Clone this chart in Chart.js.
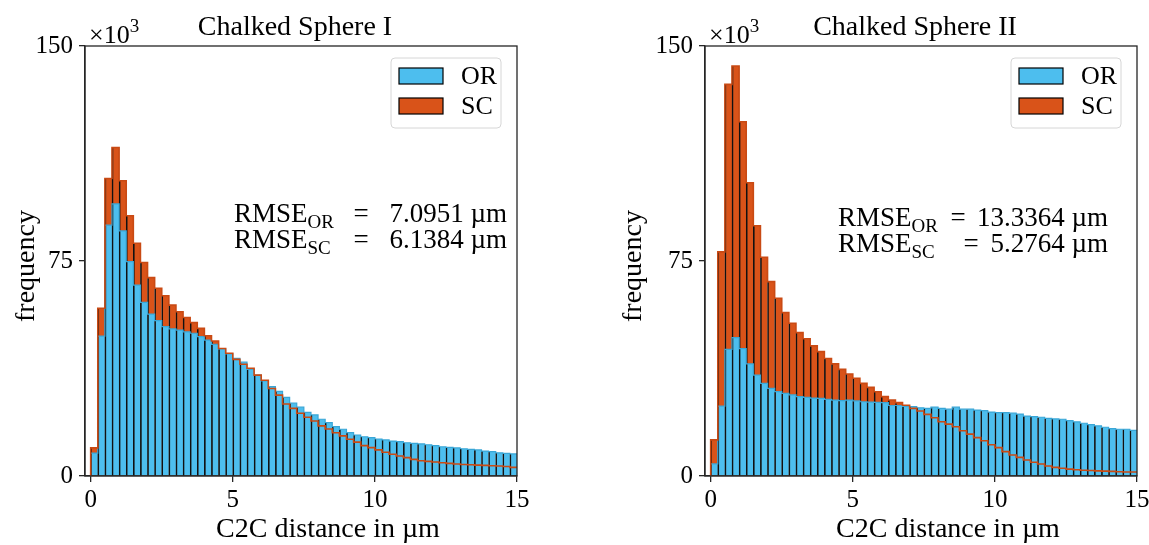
<!DOCTYPE html>
<html>
<head>
<meta charset="utf-8">
<script src="https://cdn.jsdelivr.net/npm/chart.js@4.4.1/dist/chart.umd.min.js"></script>
<style>
    body { margin: 0; background: #fff; overflow: hidden; }
    canvas { position: absolute; top: 0; }
</style>
</head>
<body>
<canvas id="sphereOne" width="600" height="545" style="left:0"></canvas>
<canvas id="sphereTwo" width="549" height="545" style="left:600px"></canvas>
<script>
const SERIF = '"Liberation Serif", "DejaVu Serif", serif';
const OR_COLOR = '#4DBEEE';
const SC_COLOR = '#D95319';

// histogram values in thousands, bins of 0.25 um from 0 to 15
const OR_ONE = [
    8.0, 48.8, 87.5, 94.9, 85.5, 74.8, 66.6, 60.6, 56.5, 54.2,
    52.1, 51.3, 50.9, 50.3, 49.8, 48.6, 47.4, 45.9, 44.3, 42.6,
    41.0, 39.7, 37.2, 35.2, 33.2, 31.2, 29.5, 27.4, 25.4, 24.0,
    22.2, 21.3, 19.8, 18.6, 17.2, 16.3, 15.1, 14.3, 13.7, 13.4,
    12.9, 12.6, 12.2, 12.0, 11.6, 11.4, 11.2, 10.9, 10.6, 10.2,
    10.0, 9.8, 9.5, 9.3, 9.1, 8.7, 8.5, 8.1, 7.9, 7.7
];
const SC_ONE = [
    9.8, 58.5, 103.8, 114.6, 103.0, 90.8, 81.2, 74.5, 69.2, 65.5,
    62.9, 59.6, 57.3, 55.3, 53.5, 51.5, 48.9, 47.1, 44.5, 42.8,
    40.7, 39.0, 37.6, 35.2, 33.4, 30.5, 28.2, 25.1, 23.6, 21.9,
    20.5, 19.2, 17.5, 16.4, 15.1, 14.0, 12.8, 11.8, 10.6, 9.9,
    9.1, 8.3, 7.6, 7.0, 6.4, 5.8, 5.3, 5.1, 4.9, 4.6,
    4.4, 4.2, 4.0, 3.9, 3.8, 3.7, 3.6, 3.5, 3.3, 3.0
];
const OR_TWO = [
    4.2, 24.4, 44.2, 48.3, 44.4, 39.1, 35.2, 32.3, 30.6, 29.4,
    28.8, 28.3, 27.7, 27.4, 27.2, 27.1, 26.7, 26.5, 26.3, 26.5,
    26.2, 25.9, 25.8, 25.7, 25.6, 24.6, 24.6, 24.3, 24.2, 23.8,
    23.6, 24.0, 23.6, 23.3, 24.0, 23.3, 23.3, 23.0, 22.8, 22.3,
    22.1, 22.1, 21.9, 21.6, 20.9, 20.7, 20.5, 20.1, 19.9, 19.8,
    19.3, 18.9, 18.4, 17.9, 17.5, 17.0, 16.5, 16.3, 16.3, 15.9
];
const SC_TWO = [
    12.6, 78.2, 136.6, 143.0, 123.6, 102.3, 87.3, 76.3, 67.8, 62.0,
    57.0, 53.3, 50.0, 47.9, 45.4, 43.4, 41.0, 39.1, 37.2, 35.6,
    34.1, 32.3, 30.9, 29.4, 27.7, 26.5, 25.6, 24.7, 23.6, 22.7,
    21.5, 20.3, 18.9, 18.1, 17.2, 15.8, 14.6, 13.4, 12.3, 10.9,
    9.9, 8.5, 7.3, 6.5, 5.6, 4.8, 4.2, 3.5, 3.0, 2.7,
    2.4, 2.2, 2.0, 1.9, 1.8, 1.7, 1.6, 1.5, 1.4, 1.4
];

const BIN_WIDTH = 0.25;
const X_TICKS = [0, 5, 10, 15];
const Y_TICKS = [0, 75, 150];
const LEGEND_LABELS = ['OR', 'SC'];

const barData = values => values.map((v, i) => ({ x: (i + 0.5) * BIN_WIDTH, y: v }));

// outline of a histogram as points on the bin edges
const stepData = values => [{ x: 0, y: 0 }]
    .concat(values.map((v, i) => ({ x: i * BIN_WIDTH, y: v })))
    .concat({ x: values.length * BIN_WIDTH, y: values[values.length - 1] });

const drawRmseLine = (ctx, x, y, sub, eqX, value, valueRight) => {
    ctx.textAlign = 'left';
    ctx.font = `27px ${SERIF}`;
    ctx.fillText('RMSE', x, y);
    const w = ctx.measureText('RMSE').width;
    ctx.font = `19px ${SERIF}`;
    ctx.fillText(sub, x + w, y + 6);
    ctx.font = `27px ${SERIF}`;
    ctx.textAlign = 'center';
    ctx.fillText('=', eqX, y);
    ctx.textAlign = 'right';
    ctx.fillText(value, valueRight, y);
};

const decorPlugin = {
    id: 'decor',
    afterDraw(chart, args, opts) {
        const { ctx, chartArea: a } = chart;
        const mid = (a.left + a.right) / 2;
        ctx.save();

        ctx.strokeStyle = '#262626';
        ctx.lineWidth = 1.3;
        ctx.strokeRect(a.left, a.top, a.right - a.left, a.bottom - a.top);

        ctx.fillStyle = '#000';
        ctx.textBaseline = 'alphabetic';
        ctx.font = `28px ${SERIF}`;
        ctx.textAlign = 'center';
        ctx.fillText(opts.title, mid - 6, 35);
        ctx.fillText('C2C distance in µm', mid + 27, 537);

        ctx.save();
        ctx.translate(opts.yLabelX, 266);
        ctx.rotate(-Math.PI / 2);
        ctx.fillText('frequency', 0, 9);
        ctx.restore();

        // multiplier above the y axis
        ctx.textAlign = 'left';
        ctx.font = `26px ${SERIF}`;
        ctx.fillText('×10', a.left + 4, a.top - 3);
        const mw = ctx.measureText('×10').width;
        ctx.font = `19px ${SERIF}`;
        ctx.fillText('3', a.left + 4 + mw, a.top - 14);

        // legend
        const lx = a.right - 126, ly = a.top + 12;
        ctx.beginPath();
        ctx.roundRect(lx, ly, 110, 70, 4);
        ctx.fillStyle = 'rgba(255,255,255,0.85)';
        ctx.fill();
        ctx.strokeStyle = '#d6d6d6';
        ctx.lineWidth = 1;
        ctx.stroke();
        [OR_COLOR, SC_COLOR].forEach((c, i) => {
            const py = ly + 10 + i * 30;
            ctx.fillStyle = c;
            ctx.fillRect(lx + 8, py, 44, 16);
            ctx.strokeStyle = '#000';
            ctx.lineWidth = 1.2;
            ctx.strokeRect(lx + 8, py, 44, 16);
            ctx.fillStyle = '#000';
            ctx.font = `26px ${SERIF}`;
            ctx.textAlign = 'left';
            ctx.fillText(LEGEND_LABELS[i], lx + 70, py + 16);
        });

        // error annotation
        ctx.fillStyle = '#000';
        opts.rmse.forEach(r => drawRmseLine(ctx, a.left + opts.rmseX, r.y, r.sub, a.left + r.eqX, r.value, a.right - opts.rmseRight));

        ctx.restore();
    }
};

/**
 * Builds one histogram panel.
 */
const makePanel = (canvasId, orValues, scValues, panel) => {
    const ctx = document.getElementById(canvasId).getContext('2d');

    return new Chart(ctx, {
        type: 'bar',
        data: {
            datasets: [
                {
                    type: 'line',
                    data: stepData(scValues),
                    stepped: true,
                    borderColor: '#C94A14',
                    borderWidth: 1.6,
                    pointRadius: 0,
                    fill: false,
                    order: 0
                },
                {
                    type: 'line',
                    data: stepData(orValues),
                    stepped: true,
                    borderColor: '#3AA6D6',
                    borderWidth: 1.2,
                    pointRadius: 0,
                    fill: false,
                    order: 1
                },
                {
                    label: 'OR',
                    data: barData(orValues),
                    backgroundColor: OR_COLOR,
                    borderColor: '#111',
                    borderWidth: { left: 1.6, top: 0, right: 0, bottom: 0 },
                    barPercentage: 1,
                    categoryPercentage: 1,
                    grouped: false,
                    order: 2
                },
                {
                    label: 'SC',
                    data: barData(scValues),
                    backgroundColor: SC_COLOR,
                    borderColor: '#111',
                    borderWidth: { left: 1.6, top: 0, right: 0, bottom: 0 },
                    barPercentage: 1,
                    categoryPercentage: 1,
                    grouped: false,
                    order: 3
                }
            ]
        },
        options: {
            responsive: false,
            animation: false,
            layout: {
                padding: { top: 46, right: panel.padRight, left: 0, bottom: 0 }
            },
            plugins: {
                legend: { display: false },
                tooltip: { enabled: false },
                decor: panel
            },
            scales: {
                x: {
                    type: 'linear',
                    min: -0.2,
                    max: 15,
                    offset: false,
                    afterBuildTicks: scale => { scale.ticks = X_TICKS.map(v => ({ value: v })); },
                    afterFit: scale => {
                        scale.height = 69;
                        scale.paddingLeft = 0;
                        scale.paddingRight = 0;
                    },
                    grid: { display: true, drawOnChartArea: false, offset: false, tickLength: 6, color: '#262626', lineWidth: 1.3 },
                    border: { color: '#262626', width: 1.3 },
                    ticks: { color: '#000', padding: 3, maxRotation: 0, font: { family: SERIF, size: 25 } }
                },
                y: {
                    min: 0,
                    max: 150,
                    afterBuildTicks: scale => { scale.ticks = Y_TICKS.map(v => ({ value: v })); },
                    afterFit: scale => {
                        scale.width = panel.axisWidth;
                        scale.paddingTop = 0;
                        scale.paddingBottom = 0;
                    },
                    grid: { display: true, drawOnChartArea: false, tickLength: 6, color: '#262626', lineWidth: 1.3 },
                    border: { color: '#262626', width: 1.3 },
                    ticks: { color: '#000', padding: 6, font: { family: SERIF, size: 25 } }
                }
            }
        },
        plugins: [decorPlugin]
    });
};

window.addEventListener('load', () => {
    makePanel('sphereOne', OR_ONE, SC_ONE, {
        title: 'Chalked Sphere I',
        axisWidth: 85,
        padRight: 83,
        yLabelX: 25,
        rmseX: 149,
        rmseRight: 10,
        rmse: [
            { sub: 'OR', y: 222, eqX: 276, value: '7.0951 µm' },
            { sub: 'SC', y: 248, eqX: 276, value: '6.1384 µm' }
        ]
    });

    makePanel('sphereTwo', OR_TWO, SC_TWO, {
        title: 'Chalked Sphere II',
        axisWidth: 105,
        padRight: 12,
        yLabelX: 32,
        rmseX: 133,
        rmseRight: 29,
        rmse: [
            { sub: 'OR', y: 226, eqX: 253, value: '13.3364 µm' },
            { sub: 'SC', y: 252, eqX: 266, value: '5.2764 µm' }
        ]
    });
});
</script>
</body>
</html>
